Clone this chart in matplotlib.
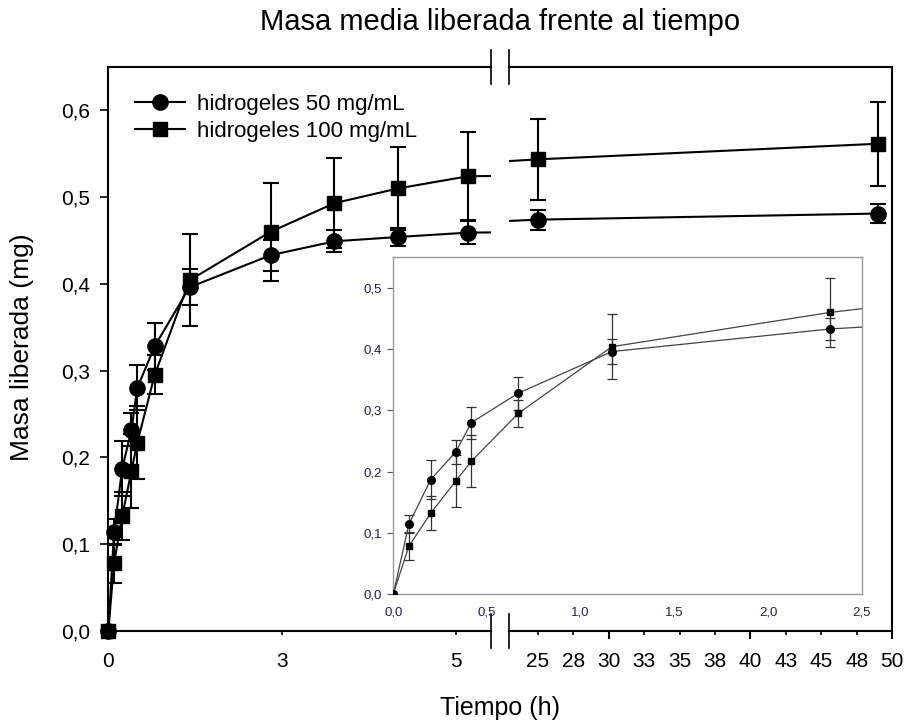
import numpy as np
import matplotlib.pyplot as plt
from matplotlib.lines import Line2D

plt.rcParams['font.family'] = ['Liberation Sans', 'DejaVu Sans']

# tiempos de muestreo (h)
tiempo = [0, 0.083, 0.2, 0.333, 0.417, 0.667, 1.167, 2.333, 3.25, 4.167, 5.167, 25, 49]

# masa media liberada (mg) y desviación
masa_50 = [0, 0.114, 0.187, 0.232, 0.280, 0.328, 0.396, 0.433, 0.449, 0.454, 0.459, 0.474, 0.481]
err_50 = [0, 0.015, 0.032, 0.019, 0.026, 0.027, 0.021, 0.018, 0.0125, 0.010, 0.013, 0.0115, 0.0105]
masa_100 = [0, 0.078, 0.132, 0.1845, 0.217, 0.295, 0.404, 0.460, 0.493, 0.510, 0.524, 0.5435, 0.5615]
err_100 = [0, 0.0225, 0.0275, 0.0425, 0.042, 0.0225, 0.053, 0.0565, 0.052, 0.048, 0.051, 0.047, 0.0485]

series = [
    ("hidrogeles 50 mg/mL", masa_50, err_50, "o"),
    ("hidrogeles 100 mg/mL", masa_100, err_100, "s"),
]

# eje x partido: 0-5,5 h y 23-50 h
xlim_izq = (0, 5.5)
xlim_der = (23, 50)
ticks_izq = [0, 2.5, 5]
etiquetas_izq = ["0", "3", "5"]
ticks_der_may = [30, 40, 50]
etiquetas_der_may = ["30", "40", "50"]
ticks_der_men = [25, 27.5, 32.5, 35, 37.5, 42.5, 45, 47.5]
etiquetas_der_men = ["25", "28", "33", "35", "38", "43", "45", "48"]
yticks = [0, 0.1, 0.2, 0.3, 0.4, 0.5, 0.6]
yticks_inset = [0, 0.1, 0.2, 0.3, 0.4, 0.5]
xticks_inset = [0, 0.5, 1.0, 1.5, 2.0, 2.5]


def coma(v):
    return f"{v:.1f}".replace(".", ",")


W, H = 909, 726
fig = plt.figure(figsize=(W / 100, H / 100), dpi=100)

y0 = 1 - 630.7 / H
alto = (630.7 - 67) / H
ax_l = fig.add_axes([108.3 / W, y0, (491 - 108.3) / W, alto])
ax_r = fig.add_axes([509.3 / W, y0, (892.3 - 509.3) / W, alto])

t = np.array(tiempo)
for ax, lim in ((ax_l, xlim_izq), (ax_r, xlim_der)):
    for nombre, m, e, mk in series:
        m = np.array(m)
        ax.errorbar(t, m, yerr=e, fmt="none", ecolor="black", elinewidth=1.5,
                    capsize=6, capthick=1.5, zorder=2)
        ax.plot(t, m, color="black", lw=1.5, zorder=3)
        dentro = (t >= lim[0]) & (t <= lim[1])
        ax.plot(t[dentro], m[dentro], ls="none", marker=mk, color="black",
                markersize=11 if mk == "o" else 10, clip_on=False, zorder=4)
    ax.set_xlim(*lim)
    ax.set_ylim(0, 0.65)
    for s in ax.spines.values():
        s.set_linewidth(1.5)

ax_l.spines["right"].set_visible(False)
ax_r.spines["left"].set_visible(False)
ax_r.tick_params(axis="y", left=False, labelleft=False)

ax_l.set_yticks(yticks)
ax_l.set_yticklabels([coma(v) for v in yticks])
ax_l.tick_params(axis="y", length=6, width=1.2, pad=7, labelsize=15)

ax_l.set_xticks([])
ax_l.set_xticks(ticks_izq, minor=True)
ax_l.set_xticklabels(etiquetas_izq, minor=True)
ax_l.tick_params(axis="x", which="minor", length=3, width=1.2, pad=12, labelsize=15)

ax_r.set_xticks(ticks_der_may)
ax_r.set_xticklabels(etiquetas_der_may)
ax_r.set_xticks(ticks_der_men, minor=True)
ax_r.set_xticklabels(etiquetas_der_men, minor=True)
ax_r.tick_params(axis="x", which="major", length=6, width=1.5, pad=9, labelsize=15)
ax_r.tick_params(axis="x", which="minor", length=3, width=1.2, pad=12, labelsize=15)

# marcas de corte del eje
d = 17 / (630.7 - 67)
for ax, xb in ((ax_l, 1), (ax_r, 0)):
    for yb in (0, 1):
        ax.plot([xb, xb], [yb - d, yb + d], transform=ax.transAxes,
                color="black", lw=1.2, clip_on=False)

handles = [Line2D([], [], color="black", lw=1.5, marker=mk,
                  markersize=11 if mk == "o" else 10)
           for _, _, _, mk in series]
ax_l.legend(handles, [s[0] for s in series], loc="upper left",
            bbox_to_anchor=(135 / W, 1 - 94 / H), bbox_transform=fig.transFigure,
            frameon=False, fontsize=16, handlelength=2.25, handletextpad=0.55,
            labelspacing=0.25, borderpad=0, borderaxespad=0)

# gráfico interior: primeras 2,5 h
ax_in = fig.add_axes([393.3 / W, 1 - 594 / H, (861.7 - 393.3) / W, (594 - 257.3) / H])
ax_in.set_facecolor("white")
for nombre, m, e, mk in series:
    ax_in.errorbar(tiempo, m, yerr=e, fmt="none", ecolor="#333333", elinewidth=0.9,
                   capsize=3.5, capthick=0.9, zorder=2)
    ax_in.plot(tiempo, m, color="#444444", lw=0.9, zorder=3)
    ax_in.plot(tiempo, m, ls="none", marker=mk, color="black",
               markersize=5.5 if mk == "o" else 5, zorder=4)
ax_in.set_xlim(0, 2.5)
ax_in.set_ylim(0, 0.55)
ax_in.set_yticks(yticks_inset)
ax_in.set_yticklabels([coma(v) for v in yticks_inset])
ax_in.set_xticks(xticks_inset)
ax_in.set_xticklabels([coma(v) for v in xticks_inset])
ax_in.tick_params(axis="y", length=4, width=0.8, pad=4, labelsize=9.5,
                  color="#555555", labelcolor="#222244")
ax_in.tick_params(axis="x", length=0, pad=9, labelsize=9.5, labelcolor="#222244")
for s in ax_in.spines.values():
    s.set_color("#999999")
    s.set_linewidth(1)

fig.text(500 / W, 1 - 22 / H, "Masa media liberada frente al tiempo",
         ha="center", va="center", fontsize=21)
fig.text(500 / W, 1 - 708 / H, "Tiempo (h)", ha="center", va="center", fontsize=18)
fig.text(22 / W, 1 - 347 / H, "Masa liberada (mg)", rotation=90,
         ha="center", va="center", fontsize=19)

fig.savefig("out.png", dpi=100)
